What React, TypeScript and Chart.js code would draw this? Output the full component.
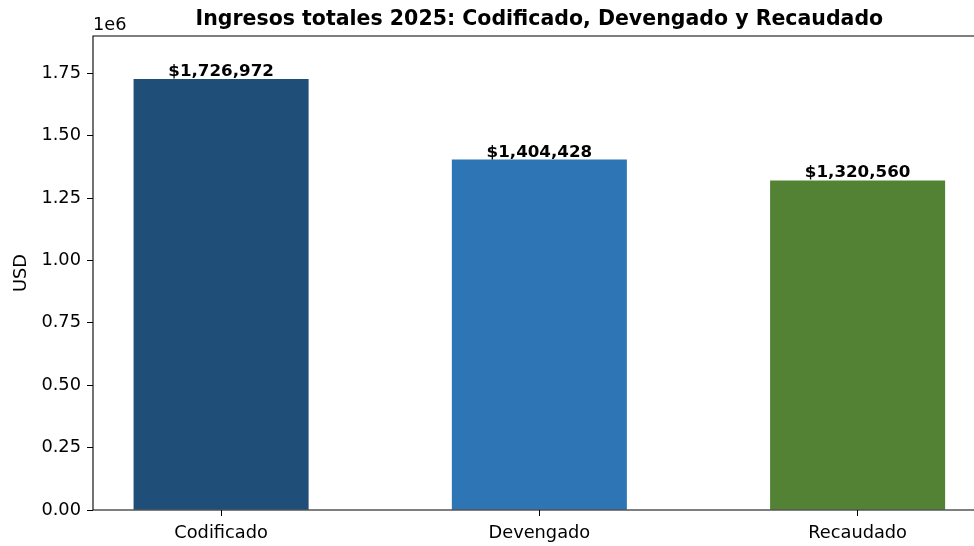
import React, { useEffect, useRef } from "react";
import { Chart, registerables } from "chart.js";

Chart.register(...registerables);

const categories = ["Codificado", "Devengado", "Recaudado"];
const values = [1726972, 1404428, 1320560];
const barColors = ["#1f4e79", "#2e75b6", "#548235"];
const yTicks = [0, 250000, 500000, 750000, 1000000, 1250000, 1500000, 1750000];
const titleText = "Ingresos totales 2025: Codificado, Devengado y Recaudado";
const yLabel = "USD";

const FONT = "'DejaVu Sans', sans-serif";

export default function App() {
  const ref = useRef<HTMLCanvasElement | null>(null);

  useEffect(() => {
    if (!ref.current) return;
    const ymax = Math.max(...values) * 1.1;
    const overlay = {
      id: "overlay",
      afterDatasetsDraw(chart: any) {
        const ctx = chart.ctx;
        const a = chart.chartArea;
        ctx.save();
        // spines
        ctx.strokeStyle = "#000";
        ctx.lineWidth = 1.1;
        ctx.beginPath();
        ctx.moveTo(a.left, a.top);
        ctx.lineTo(a.right, a.top);
        ctx.lineTo(a.right, a.bottom);
        ctx.lineTo(a.left, a.bottom);
        ctx.closePath();
        ctx.stroke();
        // value labels
        const meta = chart.getDatasetMeta(0);
        ctx.fillStyle = "#000";
        ctx.font = `bold 16.7px ${FONT}`;
        ctx.textAlign = "center";
        ctx.textBaseline = "alphabetic";
        meta.data.forEach((bar: any, i: number) => {
          ctx.fillText("$" + values[i].toLocaleString("en-US"), bar.x, bar.y - 3);
        });
        // title
        ctx.font = `bold 20.5px ${FONT}`;
        ctx.fillText(titleText, (a.left + a.right) / 2, 25);
        // offset text
        ctx.font = `17.8px ${FONT}`;
        ctx.textAlign = "left";
        ctx.fillText("1e6", a.left, 30);
        // y label
        ctx.translate(21, (a.top + a.bottom) / 2);
        ctx.rotate(-Math.PI / 2);
        ctx.textAlign = "center";
        ctx.textBaseline = "middle";
        ctx.fillText(yLabel, 0, 0);
        ctx.restore();
      },
    };

    const chart = new Chart(ref.current, {
      type: "bar",
      data: {
        datasets: [
          {
            data: values.map((v, i) => ({ x: i, y: v })),
            backgroundColor: barColors,
            borderWidth: 0,
            barPercentage: 0.55,
            categoryPercentage: 1,
          },
        ],
      },
      options: {
        responsive: false,
        animation: false,
        layout: { padding: { top: 36, right: 14.3, left: 0, bottom: 0 } },
        plugins: { legend: { display: false }, tooltip: { enabled: false }, title: { display: false } },
        scales: {
          x: {
            type: "linear",
            min: -0.4025,
            max: 2.4025,
            offset: false,
            afterBuildTicks: (s: any) => {
              s.ticks = categories.map((_, i) => ({ value: i }));
            },
            afterFit: (s: any) => {
              s.height = 36;
            },
            border: { display: false },
            grid: { offset: false, drawOnChartArea: false, drawTicks: true, tickLength: 6, tickColor: "#000", tickWidth: 1 },
            ticks: {
              color: "#000",
              font: { family: FONT, size: 17.8 },
              padding: 7,
              maxRotation: 0,
              autoSkip: false,
              callback: (v: any) => categories[Math.round(Number(v))] ?? "",
            },
          },
          y: {
            min: 0,
            max: ymax,
            afterBuildTicks: (s: any) => {
              s.ticks = yTicks.map((v) => ({ value: v }));
            },
            afterFit: (s: any) => {
              s.width = 93;
            },
            border: { display: false },
            grid: { drawOnChartArea: false, drawTicks: true, tickLength: 6, tickColor: "#000", tickWidth: 1 },
            ticks: {
              color: "#000",
              font: { family: FONT, size: 17.8 },
              padding: 6,
              callback: (v: any) => (Number(v) / 1e6).toFixed(2),
            },
          },
        },
      },
      plugins: [overlay],
    });
    return () => chart.destroy();
  }, []);

  return (
    <div style={{ position: "absolute", left: 0, top: 0, width: 974, height: 546, overflow: "hidden", background: "#fff" }}>
      <canvas ref={ref} width={1000} height={546} style={{ display: "block" }} />
    </div>
  );
}
